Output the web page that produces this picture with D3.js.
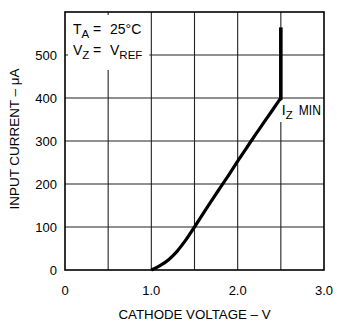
<!DOCTYPE html>
<html>
<head>
<meta charset="utf-8">
<script src="https://cdn.jsdelivr.net/npm/d3@7"></script>
<style>
  body { margin: 0; background: #fff; }
  text { font-family: "Liberation Sans", Arial, sans-serif; fill: #000; }
</style>
</head>
<body>
<div id="chart"></div>
<script>
// Cathode voltage (V) vs input current (uA)
const voltage = [1.0, 1.1, 1.2, 1.3, 1.4, 1.5, 1.6, 1.7, 1.8, 1.9, 2.0, 2.1, 2.2, 2.3, 2.4, 2.5, 2.5];
const current = [0, 10, 24, 44, 70, 100, 131, 162, 192, 222, 253, 283, 313, 342, 371, 400, 560];

const xTicks = [0, 1.0, 2.0, 3.0];
const xGrid = [0.5, 1.0, 1.5, 2.0, 2.5];
const yTicks = [0, 100, 200, 300, 400, 500];
const yGrid = [100, 200, 300, 400, 500];

const width = 337, height = 323;
const margin = { top: 12, right: 13, bottom: 53, left: 65 };
const w = width - margin.left - margin.right;
const h = height - margin.top - margin.bottom;

const svg = d3.select("#chart")
    .append("svg")
    .attr("width", width)
    .attr("height", height);

const g = svg.append("g")
    .attr("transform", `translate(${margin.left}, ${margin.top})`);

const x = d3.scaleLinear().domain([0, 3]).range([0, w]);
const y = d3.scaleLinear().domain([0, 600]).range([h, 0]);

// grid
g.selectAll("line.vgrid")
    .data(xGrid)
    .enter()
    .append("line")
    .attr("x1", d => x(d)).attr("x2", d => x(d))
    .attr("y1", 0).attr("y2", h)
    .attr("stroke", "#222").attr("stroke-width", 1.1);

g.selectAll("line.hgrid")
    .data(yGrid)
    .enter()
    .append("line")
    .attr("x1", 0).attr("x2", w)
    .attr("y1", d => y(d)).attr("y2", d => y(d))
    .attr("stroke", "#222").attr("stroke-width", 1.1);

// white boxes behind the notes
g.append("rect")
    .attr("x", 3).attr("y", 3)
    .attr("width", x(1.0) - 5).attr("height", 55)
    .attr("fill", "#fff");

g.append("rect")
    .attr("x", x(2.5) - 3).attr("y", y(400) + 3)
    .attr("width", 44).attr("height", 21)
    .attr("fill", "#fff");

// frame
g.append("rect")
    .attr("x", 0).attr("y", 0)
    .attr("width", w).attr("height", h)
    .attr("fill", "none")
    .attr("stroke", "#000").attr("stroke-width", 1.6);

// axis tick labels
g.selectAll("text.xt")
    .data(xTicks)
    .enter()
    .append("text")
    .attr("x", d => x(d))
    .attr("y", h + 25)
    .attr("text-anchor", "middle")
    .style("font-size", "13px")
    .text(d => d === 0 ? "0" : d.toFixed(1));

g.selectAll("text.yt")
    .data(yTicks)
    .enter()
    .append("text")
    .attr("x", -8)
    .attr("y", d => y(d) + 5)
    .attr("text-anchor", "end")
    .style("font-size", "13px")
    .text(d => d);

// axis titles
svg.append("text")
    .attr("x", margin.left + w / 2)
    .attr("y", 319)
    .attr("text-anchor", "middle")
    .attr("textLength", 152)
    .attr("lengthAdjust", "spacingAndGlyphs")
    .style("font-size", "13.5px")
    .text("CATHODE VOLTAGE \u2013 V");

svg.append("text")
    .attr("transform", "translate(19, 139) rotate(-90)")
    .attr("text-anchor", "middle")
    .attr("textLength", 141)
    .attr("lengthAdjust", "spacingAndGlyphs")
    .style("font-size", "13.5px")
    .text("INPUT CURRENT \u2013 \u03bcA");

// curve: smooth rise up to I_Z min, then straight vertical segment
const pts = d3.zip(voltage, current);
const n = pts.length;

const smooth = d3.line()
    .x(d => x(d[0]))
    .y(d => y(d[1]))
    .curve(d3.curveMonotoneX);

const straight = d3.line()
    .x(d => x(d[0]))
    .y(d => y(d[1]));

g.append("path")
    .datum(pts.slice(0, n - 1))
    .attr("d", smooth)
    .attr("fill", "none")
    .attr("stroke", "#000")
    .attr("stroke-width", 3.2);

g.append("path")
    .datum(pts.slice(n - 2))
    .attr("d", straight)
    .attr("fill", "none")
    .attr("stroke", "#000")
    .attr("stroke-width", 3.6)
    .attr("stroke-linecap", "square");

// notes: [text, x, dy, size]
function note(ty, parts) {
    const t = g.append("text")
        .attr("y", ty)
        .style("font-size", "14px");
    parts.forEach(p => {
        const s = t.append("tspan").text(p[0]);
        if (p[1] != null) s.attr("x", p[1]);
        if (p[2]) s.attr("dy", p[2]);
        if (p[3]) s.style("font-size", p[3]);
    });
    return t;
}

note(22, [["T", 8], ["A", null, 4, "11.5px"], ["=", 28, -4], ["25\u00b0C", 45]]);
note(43, [["V", 8], ["Z", null, 4, "11.5px"], ["=", 28, -4], ["V", 45], ["REF", null, 4, "11.5px"]]);
note(y(400) + 17, [["I", x(2.5) + 1], ["Z", null, 4, "11.5px"]]);
g.append("text")
    .attr("x", x(2.5) + 18)
    .attr("y", y(400) + 17)
    .attr("textLength", 22)
    .attr("lengthAdjust", "spacingAndGlyphs")
    .style("font-size", "14px")
    .text("MIN");
</script>
</body>
</html>
